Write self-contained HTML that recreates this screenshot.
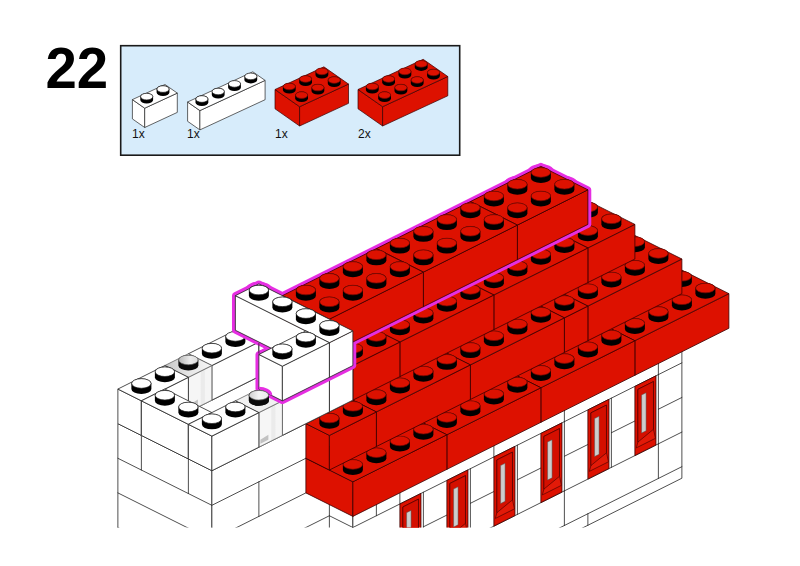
<!DOCTYPE html>
<html><head><meta charset="utf-8"><title>Step 22</title>
<style>
html,body{margin:0;padding:0;background:#fff;}
body{width:800px;height:566px;overflow:hidden;position:relative;font-family:"Liberation Sans",sans-serif;}
svg{position:absolute;left:0;top:0;}
text{font-family:"Liberation Sans",sans-serif;}
</style></head><body>
<svg width="800" height="566" viewBox="0 0 800 566">
<defs><clipPath id="c"><rect x="0" y="0" width="800" height="527.5"/></clipPath>
<linearGradient id="tg" x1="0" y1="0" x2="1" y2="0"><stop offset="0" stop-color="#c6c6c6"/><stop offset="0.5" stop-color="#e6e6e6"/><stop offset="1" stop-color="#f6f6f6"/></linearGradient>
<linearGradient id="sg" x1="0" y1="0" x2="1" y2="0"><stop offset="0" stop-color="#b8b8b8"/><stop offset="0.6" stop-color="#ececec"/><stop offset="1" stop-color="#dddddd"/></linearGradient>
<linearGradient id="fg" x1="0" y1="0" x2="1" y2="0"><stop offset="0" stop-color="#f6f6f6"/><stop offset="0.5" stop-color="#f6f6f6"/><stop offset="0.55" stop-color="#ebebeb"/><stop offset="0.68" stop-color="#ebebeb"/><stop offset="0.73" stop-color="#f5f5f5"/><stop offset="1" stop-color="#f5f5f5"/></linearGradient>
<linearGradient id="sg2" x1="0" y1="0" x2="1" y2="0"><stop offset="0" stop-color="#d0d0d0"/><stop offset="0.5" stop-color="#f4f4f4"/><stop offset="1" stop-color="#eaeaea"/></linearGradient>
</defs>
<rect x="0" y="0" width="800" height="566" fill="#ffffff"/>
<text transform="translate(45.4,88.3) scale(0.972,1)" font-size="58" font-weight="bold" fill="#000">22</text>
<rect x="120.7" y="45.7" width="339" height="109.5" fill="#d7ecfb" stroke="#1a1a1a" stroke-width="1.6"/>
<polygon points="132.4,99.6 144.7,108.2 144.7,127.5 132.4,118.9" fill="#ffffff" stroke="#222222" stroke-width="0.7" stroke-linejoin="round"/>
<polygon points="144.7,108.2 177.3,93.1 177.3,112.4 144.7,127.5" fill="#ffffff" stroke="#222222" stroke-width="0.7" stroke-linejoin="round"/>
<polygon points="132.4,99.6 165,84.5 177.3,93.1 144.7,108.2" fill="#ffffff" stroke="#222222" stroke-width="0.7" stroke-linejoin="round"/>
<path d="M156.6,89.07 L156.6,92.57 A6.4,3.5 0 0 0 169.4,92.57 L169.4,89.07 A6.4,3.5 0 0 0 156.6,89.07 Z" fill="#000000"/>
<ellipse cx="163" cy="89.07" rx="6.1" ry="3.3" fill="#ffffff" stroke="#222222" stroke-width="0.7"/>
<path d="M140.3,96.62 L140.3,100.12 A6.4,3.5 0 0 0 153.1,100.12 L153.1,96.62 A6.4,3.5 0 0 0 140.3,96.62 Z" fill="#000000"/>
<ellipse cx="146.7" cy="96.62" rx="6.1" ry="3.3" fill="#ffffff" stroke="#222222" stroke-width="0.7"/>
<polygon points="187.6,102 199.9,110.6 199.9,129.9 187.6,121.3" fill="#ffffff" stroke="#222222" stroke-width="0.7" stroke-linejoin="round"/>
<polygon points="199.9,110.6 265.1,80.4 265.1,99.7 199.9,129.9" fill="#ffffff" stroke="#222222" stroke-width="0.7" stroke-linejoin="round"/>
<polygon points="187.6,102 252.8,71.8 265.1,80.4 199.9,110.6" fill="#ffffff" stroke="#222222" stroke-width="0.7" stroke-linejoin="round"/>
<path d="M244.4,76.38 L244.4,79.88 A6.4,3.5 0 0 0 257.2,79.88 L257.2,76.38 A6.4,3.5 0 0 0 244.4,76.38 Z" fill="#000000"/>
<ellipse cx="250.8" cy="76.38" rx="6.1" ry="3.3" fill="#ffffff" stroke="#222222" stroke-width="0.7"/>
<path d="M228.1,83.92 L228.1,87.42 A6.4,3.5 0 0 0 240.9,87.42 L240.9,83.92 A6.4,3.5 0 0 0 228.1,83.92 Z" fill="#000000"/>
<ellipse cx="234.5" cy="83.92" rx="6.1" ry="3.3" fill="#ffffff" stroke="#222222" stroke-width="0.7"/>
<path d="M211.8,91.47 L211.8,94.97 A6.4,3.5 0 0 0 224.6,94.97 L224.6,91.47 A6.4,3.5 0 0 0 211.8,91.47 Z" fill="#000000"/>
<ellipse cx="218.2" cy="91.47" rx="6.1" ry="3.3" fill="#ffffff" stroke="#222222" stroke-width="0.7"/>
<path d="M195.5,99.02 L195.5,102.52 A6.4,3.5 0 0 0 208.3,102.52 L208.3,99.02 A6.4,3.5 0 0 0 195.5,99.02 Z" fill="#000000"/>
<ellipse cx="201.9" cy="99.02" rx="6.1" ry="3.3" fill="#ffffff" stroke="#222222" stroke-width="0.7"/>
<polygon points="275,89.5 299.6,106.7 299.6,126 275,108.8" fill="#dd1100" stroke="#3a0000" stroke-width="0.7" stroke-linejoin="round"/>
<polygon points="299.6,106.7 348.5,84.05 348.5,103.35 299.6,126" fill="#dd1100" stroke="#3a0000" stroke-width="0.7" stroke-linejoin="round"/>
<polygon points="275,89.5 323.9,66.85 348.5,84.05 299.6,106.7" fill="#dd1100" stroke="#3a0000" stroke-width="0.7" stroke-linejoin="round"/>
<path d="M315.5,71.42 L315.5,74.92 A6.4,3.5 0 0 0 328.3,74.92 L328.3,71.42 A6.4,3.5 0 0 0 315.5,71.42 Z" fill="#000000"/>
<ellipse cx="321.9" cy="71.42" rx="6.1" ry="3.3" fill="#dd1100" stroke="#7a0800" stroke-width="0.7"/>
<path d="M327.8,80.03 L327.8,83.53 A6.4,3.5 0 0 0 340.6,83.53 L340.6,80.03 A6.4,3.5 0 0 0 327.8,80.03 Z" fill="#000000"/>
<ellipse cx="334.2" cy="80.03" rx="6.1" ry="3.3" fill="#dd1100" stroke="#7a0800" stroke-width="0.7"/>
<path d="M299.2,78.97 L299.2,82.47 A6.4,3.5 0 0 0 312,82.47 L312,78.97 A6.4,3.5 0 0 0 299.2,78.97 Z" fill="#000000"/>
<ellipse cx="305.6" cy="78.97" rx="6.1" ry="3.3" fill="#dd1100" stroke="#7a0800" stroke-width="0.7"/>
<path d="M311.5,87.57 L311.5,91.07 A6.4,3.5 0 0 0 324.3,91.07 L324.3,87.57 A6.4,3.5 0 0 0 311.5,87.57 Z" fill="#000000"/>
<ellipse cx="317.9" cy="87.57" rx="6.1" ry="3.3" fill="#dd1100" stroke="#7a0800" stroke-width="0.7"/>
<path d="M282.9,86.52 L282.9,90.02 A6.4,3.5 0 0 0 295.7,90.02 L295.7,86.52 A6.4,3.5 0 0 0 282.9,86.52 Z" fill="#000000"/>
<ellipse cx="289.3" cy="86.52" rx="6.1" ry="3.3" fill="#dd1100" stroke="#7a0800" stroke-width="0.7"/>
<path d="M295.2,95.12 L295.2,98.62 A6.4,3.5 0 0 0 308,98.62 L308,95.12 A6.4,3.5 0 0 0 295.2,95.12 Z" fill="#000000"/>
<ellipse cx="301.6" cy="95.12" rx="6.1" ry="3.3" fill="#dd1100" stroke="#7a0800" stroke-width="0.7"/>
<polygon points="358,89.5 382.6,106.7 382.6,126 358,108.8" fill="#dd1100" stroke="#3a0000" stroke-width="0.7" stroke-linejoin="round"/>
<polygon points="382.6,106.7 447.8,76.5 447.8,95.8 382.6,126" fill="#dd1100" stroke="#3a0000" stroke-width="0.7" stroke-linejoin="round"/>
<polygon points="358,89.5 423.2,59.3 447.8,76.5 382.6,106.7" fill="#dd1100" stroke="#3a0000" stroke-width="0.7" stroke-linejoin="round"/>
<path d="M414.8,63.88 L414.8,67.38 A6.4,3.5 0 0 0 427.6,67.38 L427.6,63.88 A6.4,3.5 0 0 0 414.8,63.88 Z" fill="#000000"/>
<ellipse cx="421.2" cy="63.88" rx="6.1" ry="3.3" fill="#dd1100" stroke="#7a0800" stroke-width="0.7"/>
<path d="M427.1,72.47 L427.1,75.97 A6.4,3.5 0 0 0 439.9,75.97 L439.9,72.47 A6.4,3.5 0 0 0 427.1,72.47 Z" fill="#000000"/>
<ellipse cx="433.5" cy="72.47" rx="6.1" ry="3.3" fill="#dd1100" stroke="#7a0800" stroke-width="0.7"/>
<path d="M398.5,71.42 L398.5,74.92 A6.4,3.5 0 0 0 411.3,74.92 L411.3,71.42 A6.4,3.5 0 0 0 398.5,71.42 Z" fill="#000000"/>
<ellipse cx="404.9" cy="71.42" rx="6.1" ry="3.3" fill="#dd1100" stroke="#7a0800" stroke-width="0.7"/>
<path d="M410.8,80.03 L410.8,83.53 A6.4,3.5 0 0 0 423.6,83.53 L423.6,80.03 A6.4,3.5 0 0 0 410.8,80.03 Z" fill="#000000"/>
<ellipse cx="417.2" cy="80.03" rx="6.1" ry="3.3" fill="#dd1100" stroke="#7a0800" stroke-width="0.7"/>
<path d="M382.2,78.97 L382.2,82.47 A6.4,3.5 0 0 0 395,82.47 L395,78.97 A6.4,3.5 0 0 0 382.2,78.97 Z" fill="#000000"/>
<ellipse cx="388.6" cy="78.97" rx="6.1" ry="3.3" fill="#dd1100" stroke="#7a0800" stroke-width="0.7"/>
<path d="M394.5,87.57 L394.5,91.07 A6.4,3.5 0 0 0 407.3,91.07 L407.3,87.57 A6.4,3.5 0 0 0 394.5,87.57 Z" fill="#000000"/>
<ellipse cx="400.9" cy="87.57" rx="6.1" ry="3.3" fill="#dd1100" stroke="#7a0800" stroke-width="0.7"/>
<path d="M365.9,86.52 L365.9,90.02 A6.4,3.5 0 0 0 378.7,90.02 L378.7,86.52 A6.4,3.5 0 0 0 365.9,86.52 Z" fill="#000000"/>
<ellipse cx="372.3" cy="86.52" rx="6.1" ry="3.3" fill="#dd1100" stroke="#7a0800" stroke-width="0.7"/>
<path d="M378.2,95.12 L378.2,98.62 A6.4,3.5 0 0 0 391,98.62 L391,95.12 A6.4,3.5 0 0 0 378.2,95.12 Z" fill="#000000"/>
<ellipse cx="384.6" cy="95.12" rx="6.1" ry="3.3" fill="#dd1100" stroke="#7a0800" stroke-width="0.7"/>
<g font-size="12" fill="#111">
<text x="132" y="138">1x</text><text x="187" y="138">1x</text><text x="275" y="138">1x</text><text x="358" y="138">2x</text>
</g>
<g clip-path="url(#c)">
<polygon points="164.88,423.67 258.88,376.63 258.88,418.16 164.88,465.2" fill="#ffffff" stroke="#222222" stroke-width="0.8" stroke-linejoin="round"/>
<polygon points="117.88,423.67 211.88,470.71 211.88,643.76 117.88,596.72" fill="#ffffff" stroke="#222222" stroke-width="0.8" stroke-linejoin="round"/>
<line x1="117.88" y1="458.28" x2="211.88" y2="505.32" stroke="#222222" stroke-width="0.8" stroke-linecap="round"/>
<line x1="117.88" y1="492.89" x2="211.88" y2="539.93" stroke="#222222" stroke-width="0.8" stroke-linecap="round"/>
<line x1="117.88" y1="527.5" x2="211.88" y2="574.54" stroke="#222222" stroke-width="0.8" stroke-linecap="round"/>
<line x1="141.38" y1="435.43" x2="141.38" y2="470.04" stroke="#222222" stroke-width="0.8" stroke-linecap="round"/>
<line x1="188.38" y1="458.95" x2="188.38" y2="493.56" stroke="#222222" stroke-width="0.8" stroke-linecap="round"/>
<polygon points="211.88,470.71 352.88,400.15 352.88,573.2 211.88,643.76" fill="#ffffff" stroke="#222222" stroke-width="0.8" stroke-linejoin="round"/>
<line x1="211.88" y1="505.32" x2="352.88" y2="434.76" stroke="#222222" stroke-width="0.8" stroke-linecap="round"/>
<line x1="211.88" y1="539.93" x2="352.88" y2="469.37" stroke="#222222" stroke-width="0.8" stroke-linecap="round"/>
<line x1="211.88" y1="574.54" x2="352.88" y2="503.98" stroke="#222222" stroke-width="0.8" stroke-linecap="round"/>
<line x1="258.88" y1="481.8" x2="258.88" y2="516.41" stroke="#222222" stroke-width="0.8" stroke-linecap="round"/>
<polygon points="329.38,481.13 352.88,492.89 352.88,642.86 329.38,631.1" fill="#ffffff" stroke="#222222" stroke-width="0.8" stroke-linejoin="round"/>
<line x1="329.38" y1="515.74" x2="352.88" y2="527.5" stroke="#222222" stroke-width="0.8" stroke-linecap="round"/>
<polygon points="352.88,492.89 681.88,328.25 681.88,478.22 352.88,642.86" fill="#ffffff" stroke="#222222" stroke-width="0.8" stroke-linejoin="round"/>
<line x1="352.88" y1="527.5" x2="681.88" y2="362.86" stroke="#222222" stroke-width="0.8" stroke-linecap="round"/>
<line x1="352.88" y1="596.72" x2="681.88" y2="432.08" stroke="#222222" stroke-width="0.8" stroke-linecap="round"/>
<line x1="352.88" y1="631.33" x2="681.88" y2="466.69" stroke="#222222" stroke-width="0.8" stroke-linecap="round"/>
<line x1="376.38" y1="481.13" x2="376.38" y2="515.74" stroke="#222222" stroke-width="0.8" stroke-linecap="round"/>
<line x1="399.88" y1="469.37" x2="399.88" y2="503.98" stroke="#222222" stroke-width="0.8" stroke-linecap="round"/>
<line x1="493.88" y1="422.33" x2="493.88" y2="456.94" stroke="#222222" stroke-width="0.8" stroke-linecap="round"/>
<line x1="564.38" y1="387.05" x2="564.38" y2="421.66" stroke="#222222" stroke-width="0.8" stroke-linecap="round"/>
<line x1="658.38" y1="340.01" x2="658.38" y2="374.62" stroke="#222222" stroke-width="0.8" stroke-linecap="round"/>
<line x1="352.88" y1="562.11" x2="399.88" y2="538.59" stroke="#222222" stroke-width="0.8" stroke-linecap="round"/>
<line x1="423.38" y1="526.83" x2="446.88" y2="515.07" stroke="#222222" stroke-width="0.8" stroke-linecap="round"/>
<line x1="470.38" y1="503.31" x2="493.88" y2="491.55" stroke="#222222" stroke-width="0.8" stroke-linecap="round"/>
<line x1="517.38" y1="479.79" x2="540.88" y2="468.03" stroke="#222222" stroke-width="0.8" stroke-linecap="round"/>
<line x1="564.38" y1="456.27" x2="587.88" y2="444.51" stroke="#222222" stroke-width="0.8" stroke-linecap="round"/>
<line x1="611.38" y1="432.75" x2="634.88" y2="420.99" stroke="#222222" stroke-width="0.8" stroke-linecap="round"/>
<line x1="658.38" y1="409.23" x2="681.88" y2="397.47" stroke="#222222" stroke-width="0.8" stroke-linecap="round"/>
<line x1="564.38" y1="490.88" x2="564.38" y2="525.49" stroke="#222222" stroke-width="0.8" stroke-linecap="round"/>
<line x1="658.38" y1="443.84" x2="658.38" y2="478.45" stroke="#222222" stroke-width="0.8" stroke-linecap="round"/>
<line x1="587.88" y1="513.73" x2="587.88" y2="525.26" stroke="#222222" stroke-width="0.8" stroke-linecap="round"/>
<line x1="658.38" y1="374.62" x2="658.38" y2="443.84" stroke="#222222" stroke-width="0.8" stroke-linecap="round"/>
<polygon points="634.88,386.38 655.98,375.82 655.98,445.04 634.88,455.6" fill="#dd1100" stroke="#3a0000" stroke-width="0.8" stroke-linejoin="round"/>
<polygon points="637.88,389.38 653.48,381.57 653.48,429.29 655.48,438.29 636.38,447.85 637.88,442.1" fill="#e21a08" stroke="#3a0000" stroke-width="0.6" stroke-linejoin="round"/>
<polygon points="637.88,389.38 653.48,381.57 653.48,429.29 637.88,442.1" fill="#d40f00" stroke="#3a0000" stroke-width="0.6" stroke-linejoin="round"/>
<polygon points="641.58,395.03 646.08,392.78 646.08,430.78 641.58,433.03" fill="#cdcdcd" stroke="#555" stroke-width="0.5" stroke-linejoin="round"/>
<line x1="611.38" y1="398.14" x2="611.38" y2="467.36" stroke="#222222" stroke-width="0.8" stroke-linecap="round"/>
<polygon points="587.88,409.9 608.98,399.34 608.98,468.56 587.88,479.12" fill="#dd1100" stroke="#3a0000" stroke-width="0.8" stroke-linejoin="round"/>
<polygon points="590.88,412.9 606.48,405.09 606.48,452.81 608.48,461.81 589.38,471.37 590.88,465.62" fill="#e21a08" stroke="#3a0000" stroke-width="0.6" stroke-linejoin="round"/>
<polygon points="590.88,412.9 606.48,405.09 606.48,452.81 590.88,465.62" fill="#d40f00" stroke="#3a0000" stroke-width="0.6" stroke-linejoin="round"/>
<polygon points="594.58,418.55 599.08,416.3 599.08,454.3 594.58,456.55" fill="#cdcdcd" stroke="#555" stroke-width="0.5" stroke-linejoin="round"/>
<line x1="564.38" y1="421.66" x2="564.38" y2="490.88" stroke="#222222" stroke-width="0.8" stroke-linecap="round"/>
<polygon points="540.88,433.42 561.98,422.86 561.98,492.08 540.88,502.64" fill="#dd1100" stroke="#3a0000" stroke-width="0.8" stroke-linejoin="round"/>
<polygon points="543.88,436.42 559.48,428.61 559.48,476.33 561.48,485.33 542.38,494.89 543.88,489.14" fill="#e21a08" stroke="#3a0000" stroke-width="0.6" stroke-linejoin="round"/>
<polygon points="543.88,436.42 559.48,428.61 559.48,476.33 543.88,489.14" fill="#d40f00" stroke="#3a0000" stroke-width="0.6" stroke-linejoin="round"/>
<polygon points="547.58,442.07 552.08,439.82 552.08,477.82 547.58,480.07" fill="#cdcdcd" stroke="#555" stroke-width="0.5" stroke-linejoin="round"/>
<line x1="517.38" y1="445.18" x2="517.38" y2="514.4" stroke="#222222" stroke-width="0.8" stroke-linecap="round"/>
<polygon points="493.88,456.94 514.98,446.38 514.98,515.6 493.88,526.16" fill="#dd1100" stroke="#3a0000" stroke-width="0.8" stroke-linejoin="round"/>
<polygon points="496.88,459.94 512.48,452.13 512.48,499.85 514.48,508.85 495.38,518.41 496.88,512.66" fill="#e21a08" stroke="#3a0000" stroke-width="0.6" stroke-linejoin="round"/>
<polygon points="496.88,459.94 512.48,452.13 512.48,499.85 496.88,512.66" fill="#d40f00" stroke="#3a0000" stroke-width="0.6" stroke-linejoin="round"/>
<polygon points="500.58,465.59 505.08,463.34 505.08,501.34 500.58,503.59" fill="#cdcdcd" stroke="#555" stroke-width="0.5" stroke-linejoin="round"/>
<line x1="470.38" y1="468.7" x2="470.38" y2="537.92" stroke="#222222" stroke-width="0.8" stroke-linecap="round"/>
<polygon points="446.88,480.46 467.98,469.9 467.98,539.12 446.88,549.68" fill="#dd1100" stroke="#3a0000" stroke-width="0.8" stroke-linejoin="round"/>
<polygon points="449.88,483.46 465.48,475.65 465.48,523.37 467.48,532.37 448.38,541.93 449.88,536.18" fill="#e21a08" stroke="#3a0000" stroke-width="0.6" stroke-linejoin="round"/>
<polygon points="449.88,483.46 465.48,475.65 465.48,523.37 449.88,536.18" fill="#d40f00" stroke="#3a0000" stroke-width="0.6" stroke-linejoin="round"/>
<polygon points="453.58,489.11 458.08,486.86 458.08,524.86 453.58,527.11" fill="#cdcdcd" stroke="#555" stroke-width="0.5" stroke-linejoin="round"/>
<line x1="423.38" y1="492.22" x2="423.38" y2="561.44" stroke="#222222" stroke-width="0.8" stroke-linecap="round"/>
<polygon points="399.88,503.98 420.98,493.42 420.98,562.64 399.88,573.2" fill="#dd1100" stroke="#3a0000" stroke-width="0.8" stroke-linejoin="round"/>
<polygon points="402.88,506.98 418.48,499.17 418.48,546.89 420.48,555.89 401.38,565.45 402.88,559.7" fill="#e21a08" stroke="#3a0000" stroke-width="0.6" stroke-linejoin="round"/>
<polygon points="402.88,506.98 418.48,499.17 418.48,546.89 402.88,559.7" fill="#d40f00" stroke="#3a0000" stroke-width="0.6" stroke-linejoin="round"/>
<polygon points="406.58,512.63 411.08,510.38 411.08,548.38 406.58,550.63" fill="#cdcdcd" stroke="#555" stroke-width="0.5" stroke-linejoin="round"/>
<polygon points="587.88,317.16 634.88,340.68 634.88,375.29 587.88,351.77" fill="#dd1100" stroke="#3a0000" stroke-width="0.8" stroke-linejoin="round"/>
<polygon points="634.88,340.68 728.88,293.64 728.88,328.25 634.88,375.29" fill="#dd1100" stroke="#3a0000" stroke-width="0.8" stroke-linejoin="round"/>
<polygon points="587.88,317.16 681.88,270.12 728.88,293.64 634.88,340.68" fill="#dd1100" stroke="#3a0000" stroke-width="0.8" stroke-linejoin="round"/>
<path d="M671.88,276.28 L671.88,281.88 A10,5 0 0 0 691.88,281.88 L691.88,276.28 A10,5 0 0 0 671.88,276.28 Z" fill="#000000"/>
<ellipse cx="681.88" cy="276.28" rx="9.7" ry="4.8" fill="#dd1100" stroke="#7a0800" stroke-width="0.7"/>
<path d="M695.38,288.04 L695.38,293.64 A10,5 0 0 0 715.38,293.64 L715.38,288.04 A10,5 0 0 0 695.38,288.04 Z" fill="#000000"/>
<ellipse cx="705.38" cy="288.04" rx="9.7" ry="4.8" fill="#dd1100" stroke="#7a0800" stroke-width="0.7"/>
<path d="M671.88,299.8 L671.88,305.4 A10,5 0 0 0 691.88,305.4 L691.88,299.8 A10,5 0 0 0 671.88,299.8 Z" fill="#000000"/>
<ellipse cx="681.88" cy="299.8" rx="9.7" ry="4.8" fill="#dd1100" stroke="#7a0800" stroke-width="0.7"/>
<path d="M648.38,311.56 L648.38,317.16 A10,5 0 0 0 668.38,317.16 L668.38,311.56 A10,5 0 0 0 648.38,311.56 Z" fill="#000000"/>
<ellipse cx="658.38" cy="311.56" rx="9.7" ry="4.8" fill="#dd1100" stroke="#7a0800" stroke-width="0.7"/>
<path d="M624.88,323.32 L624.88,328.92 A10,5 0 0 0 644.88,328.92 L644.88,323.32 A10,5 0 0 0 624.88,323.32 Z" fill="#000000"/>
<ellipse cx="634.88" cy="323.32" rx="9.7" ry="4.8" fill="#dd1100" stroke="#7a0800" stroke-width="0.7"/>
<polygon points="493.88,364.2 540.88,387.72 540.88,422.33 493.88,398.81" fill="#dd1100" stroke="#3a0000" stroke-width="0.8" stroke-linejoin="round"/>
<polygon points="540.88,387.72 634.88,340.68 634.88,375.29 540.88,422.33" fill="#dd1100" stroke="#3a0000" stroke-width="0.8" stroke-linejoin="round"/>
<polygon points="493.88,364.2 587.88,317.16 634.88,340.68 540.88,387.72" fill="#dd1100" stroke="#3a0000" stroke-width="0.8" stroke-linejoin="round"/>
<path d="M601.38,335.08 L601.38,340.68 A10,5 0 0 0 621.38,340.68 L621.38,335.08 A10,5 0 0 0 601.38,335.08 Z" fill="#000000"/>
<ellipse cx="611.38" cy="335.08" rx="9.7" ry="4.8" fill="#dd1100" stroke="#7a0800" stroke-width="0.7"/>
<path d="M577.88,346.84 L577.88,352.44 A10,5 0 0 0 597.88,352.44 L597.88,346.84 A10,5 0 0 0 577.88,346.84 Z" fill="#000000"/>
<ellipse cx="587.88" cy="346.84" rx="9.7" ry="4.8" fill="#dd1100" stroke="#7a0800" stroke-width="0.7"/>
<path d="M554.38,358.6 L554.38,364.2 A10,5 0 0 0 574.38,364.2 L574.38,358.6 A10,5 0 0 0 554.38,358.6 Z" fill="#000000"/>
<ellipse cx="564.38" cy="358.6" rx="9.7" ry="4.8" fill="#dd1100" stroke="#7a0800" stroke-width="0.7"/>
<path d="M530.88,370.36 L530.88,375.96 A10,5 0 0 0 550.88,375.96 L550.88,370.36 A10,5 0 0 0 530.88,370.36 Z" fill="#000000"/>
<ellipse cx="540.88" cy="370.36" rx="9.7" ry="4.8" fill="#dd1100" stroke="#7a0800" stroke-width="0.7"/>
<polygon points="399.88,411.24 446.88,434.76 446.88,469.37 399.88,445.85" fill="#dd1100" stroke="#3a0000" stroke-width="0.8" stroke-linejoin="round"/>
<polygon points="446.88,434.76 540.88,387.72 540.88,422.33 446.88,469.37" fill="#dd1100" stroke="#3a0000" stroke-width="0.8" stroke-linejoin="round"/>
<polygon points="399.88,411.24 493.88,364.2 540.88,387.72 446.88,434.76" fill="#dd1100" stroke="#3a0000" stroke-width="0.8" stroke-linejoin="round"/>
<path d="M507.38,382.12 L507.38,387.72 A10,5 0 0 0 527.38,387.72 L527.38,382.12 A10,5 0 0 0 507.38,382.12 Z" fill="#000000"/>
<ellipse cx="517.38" cy="382.12" rx="9.7" ry="4.8" fill="#dd1100" stroke="#7a0800" stroke-width="0.7"/>
<path d="M483.88,393.88 L483.88,399.48 A10,5 0 0 0 503.88,399.48 L503.88,393.88 A10,5 0 0 0 483.88,393.88 Z" fill="#000000"/>
<ellipse cx="493.88" cy="393.88" rx="9.7" ry="4.8" fill="#dd1100" stroke="#7a0800" stroke-width="0.7"/>
<path d="M460.38,405.64 L460.38,411.24 A10,5 0 0 0 480.38,411.24 L480.38,405.64 A10,5 0 0 0 460.38,405.64 Z" fill="#000000"/>
<ellipse cx="470.38" cy="405.64" rx="9.7" ry="4.8" fill="#dd1100" stroke="#7a0800" stroke-width="0.7"/>
<path d="M436.88,417.4 L436.88,423 A10,5 0 0 0 456.88,423 L456.88,417.4 A10,5 0 0 0 436.88,417.4 Z" fill="#000000"/>
<ellipse cx="446.88" cy="417.4" rx="9.7" ry="4.8" fill="#dd1100" stroke="#7a0800" stroke-width="0.7"/>
<polygon points="305.88,458.28 352.88,481.8 352.88,516.41 305.88,492.89" fill="#dd1100" stroke="#3a0000" stroke-width="0.8" stroke-linejoin="round"/>
<polygon points="352.88,481.8 446.88,434.76 446.88,469.37 352.88,516.41" fill="#dd1100" stroke="#3a0000" stroke-width="0.8" stroke-linejoin="round"/>
<polygon points="305.88,458.28 399.88,411.24 446.88,434.76 352.88,481.8" fill="#dd1100" stroke="#3a0000" stroke-width="0.8" stroke-linejoin="round"/>
<path d="M413.38,429.16 L413.38,434.76 A10,5 0 0 0 433.38,434.76 L433.38,429.16 A10,5 0 0 0 413.38,429.16 Z" fill="#000000"/>
<ellipse cx="423.38" cy="429.16" rx="9.7" ry="4.8" fill="#dd1100" stroke="#7a0800" stroke-width="0.7"/>
<path d="M389.88,440.92 L389.88,446.52 A10,5 0 0 0 409.88,446.52 L409.88,440.92 A10,5 0 0 0 389.88,440.92 Z" fill="#000000"/>
<ellipse cx="399.88" cy="440.92" rx="9.7" ry="4.8" fill="#dd1100" stroke="#7a0800" stroke-width="0.7"/>
<path d="M366.38,452.68 L366.38,458.28 A10,5 0 0 0 386.38,458.28 L386.38,452.68 A10,5 0 0 0 366.38,452.68 Z" fill="#000000"/>
<ellipse cx="376.38" cy="452.68" rx="9.7" ry="4.8" fill="#dd1100" stroke="#7a0800" stroke-width="0.7"/>
<path d="M342.88,464.44 L342.88,470.04 A10,5 0 0 0 362.88,470.04 L362.88,464.44 A10,5 0 0 0 342.88,464.44 Z" fill="#000000"/>
<ellipse cx="352.88" cy="464.44" rx="9.7" ry="4.8" fill="#dd1100" stroke="#7a0800" stroke-width="0.7"/>
<polygon points="540.88,282.55 587.88,306.07 587.88,340.68 540.88,317.16" fill="#dd1100" stroke="#3a0000" stroke-width="0.8" stroke-linejoin="round"/>
<polygon points="587.88,306.07 681.88,259.03 681.88,293.64 587.88,340.68" fill="#dd1100" stroke="#3a0000" stroke-width="0.8" stroke-linejoin="round"/>
<polygon points="540.88,282.55 634.88,235.51 681.88,259.03 587.88,306.07" fill="#dd1100" stroke="#3a0000" stroke-width="0.8" stroke-linejoin="round"/>
<path d="M624.88,241.67 L624.88,247.27 A10,5 0 0 0 644.88,247.27 L644.88,241.67 A10,5 0 0 0 624.88,241.67 Z" fill="#000000"/>
<ellipse cx="634.88" cy="241.67" rx="9.7" ry="4.8" fill="#dd1100" stroke="#7a0800" stroke-width="0.7"/>
<path d="M648.38,253.43 L648.38,259.03 A10,5 0 0 0 668.38,259.03 L668.38,253.43 A10,5 0 0 0 648.38,253.43 Z" fill="#000000"/>
<ellipse cx="658.38" cy="253.43" rx="9.7" ry="4.8" fill="#dd1100" stroke="#7a0800" stroke-width="0.7"/>
<path d="M624.88,265.19 L624.88,270.79 A10,5 0 0 0 644.88,270.79 L644.88,265.19 A10,5 0 0 0 624.88,265.19 Z" fill="#000000"/>
<ellipse cx="634.88" cy="265.19" rx="9.7" ry="4.8" fill="#dd1100" stroke="#7a0800" stroke-width="0.7"/>
<path d="M601.38,276.95 L601.38,282.55 A10,5 0 0 0 621.38,282.55 L621.38,276.95 A10,5 0 0 0 601.38,276.95 Z" fill="#000000"/>
<ellipse cx="611.38" cy="276.95" rx="9.7" ry="4.8" fill="#dd1100" stroke="#7a0800" stroke-width="0.7"/>
<path d="M577.88,288.71 L577.88,294.31 A10,5 0 0 0 597.88,294.31 L597.88,288.71 A10,5 0 0 0 577.88,288.71 Z" fill="#000000"/>
<ellipse cx="587.88" cy="288.71" rx="9.7" ry="4.8" fill="#dd1100" stroke="#7a0800" stroke-width="0.7"/>
<polygon points="517.38,294.31 564.38,317.83 564.38,352.44 517.38,328.92" fill="#dd1100" stroke="#3a0000" stroke-width="0.8" stroke-linejoin="round"/>
<polygon points="564.38,317.83 587.88,306.07 587.88,340.68 564.38,352.44" fill="#dd1100" stroke="#3a0000" stroke-width="0.8" stroke-linejoin="round"/>
<polygon points="517.38,294.31 540.88,282.55 587.88,306.07 564.38,317.83" fill="#dd1100" stroke="#3a0000" stroke-width="0.8" stroke-linejoin="round"/>
<path d="M554.38,300.47 L554.38,306.07 A10,5 0 0 0 574.38,306.07 L574.38,300.47 A10,5 0 0 0 554.38,300.47 Z" fill="#000000"/>
<ellipse cx="564.38" cy="300.47" rx="9.7" ry="4.8" fill="#dd1100" stroke="#7a0800" stroke-width="0.7"/>
<polygon points="423.38,341.35 470.38,364.87 470.38,399.48 423.38,375.96" fill="#dd1100" stroke="#3a0000" stroke-width="0.8" stroke-linejoin="round"/>
<polygon points="470.38,364.87 564.38,317.83 564.38,352.44 470.38,399.48" fill="#dd1100" stroke="#3a0000" stroke-width="0.8" stroke-linejoin="round"/>
<polygon points="423.38,341.35 517.38,294.31 564.38,317.83 470.38,364.87" fill="#dd1100" stroke="#3a0000" stroke-width="0.8" stroke-linejoin="round"/>
<path d="M530.88,312.23 L530.88,317.83 A10,5 0 0 0 550.88,317.83 L550.88,312.23 A10,5 0 0 0 530.88,312.23 Z" fill="#000000"/>
<ellipse cx="540.88" cy="312.23" rx="9.7" ry="4.8" fill="#dd1100" stroke="#7a0800" stroke-width="0.7"/>
<path d="M507.38,323.99 L507.38,329.59 A10,5 0 0 0 527.38,329.59 L527.38,323.99 A10,5 0 0 0 507.38,323.99 Z" fill="#000000"/>
<ellipse cx="517.38" cy="323.99" rx="9.7" ry="4.8" fill="#dd1100" stroke="#7a0800" stroke-width="0.7"/>
<path d="M483.88,335.75 L483.88,341.35 A10,5 0 0 0 503.88,341.35 L503.88,335.75 A10,5 0 0 0 483.88,335.75 Z" fill="#000000"/>
<ellipse cx="493.88" cy="335.75" rx="9.7" ry="4.8" fill="#dd1100" stroke="#7a0800" stroke-width="0.7"/>
<path d="M460.38,347.51 L460.38,353.11 A10,5 0 0 0 480.38,353.11 L480.38,347.51 A10,5 0 0 0 460.38,347.51 Z" fill="#000000"/>
<ellipse cx="470.38" cy="347.51" rx="9.7" ry="4.8" fill="#dd1100" stroke="#7a0800" stroke-width="0.7"/>
<polygon points="329.38,388.39 376.38,411.91 376.38,446.52 329.38,423" fill="#dd1100" stroke="#3a0000" stroke-width="0.8" stroke-linejoin="round"/>
<polygon points="376.38,411.91 470.38,364.87 470.38,399.48 376.38,446.52" fill="#dd1100" stroke="#3a0000" stroke-width="0.8" stroke-linejoin="round"/>
<polygon points="329.38,388.39 423.38,341.35 470.38,364.87 376.38,411.91" fill="#dd1100" stroke="#3a0000" stroke-width="0.8" stroke-linejoin="round"/>
<path d="M436.88,359.27 L436.88,364.87 A10,5 0 0 0 456.88,364.87 L456.88,359.27 A10,5 0 0 0 436.88,359.27 Z" fill="#000000"/>
<ellipse cx="446.88" cy="359.27" rx="9.7" ry="4.8" fill="#dd1100" stroke="#7a0800" stroke-width="0.7"/>
<path d="M413.38,371.03 L413.38,376.63 A10,5 0 0 0 433.38,376.63 L433.38,371.03 A10,5 0 0 0 413.38,371.03 Z" fill="#000000"/>
<ellipse cx="423.38" cy="371.03" rx="9.7" ry="4.8" fill="#dd1100" stroke="#7a0800" stroke-width="0.7"/>
<path d="M389.88,382.79 L389.88,388.39 A10,5 0 0 0 409.88,388.39 L409.88,382.79 A10,5 0 0 0 389.88,382.79 Z" fill="#000000"/>
<ellipse cx="399.88" cy="382.79" rx="9.7" ry="4.8" fill="#dd1100" stroke="#7a0800" stroke-width="0.7"/>
<path d="M366.38,394.55 L366.38,400.15 A10,5 0 0 0 386.38,400.15 L386.38,394.55 A10,5 0 0 0 366.38,394.55 Z" fill="#000000"/>
<ellipse cx="376.38" cy="394.55" rx="9.7" ry="4.8" fill="#dd1100" stroke="#7a0800" stroke-width="0.7"/>
<polygon points="305.88,423.67 329.38,435.43 329.38,470.04 305.88,458.28" fill="#dd1100" stroke="#3a0000" stroke-width="0.8" stroke-linejoin="round"/>
<polygon points="329.38,435.43 376.38,411.91 376.38,446.52 329.38,470.04" fill="#dd1100" stroke="#3a0000" stroke-width="0.8" stroke-linejoin="round"/>
<polygon points="305.88,423.67 352.88,400.15 376.38,411.91 329.38,435.43" fill="#dd1100" stroke="#3a0000" stroke-width="0.8" stroke-linejoin="round"/>
<path d="M342.88,406.31 L342.88,411.91 A10,5 0 0 0 362.88,411.91 L362.88,406.31 A10,5 0 0 0 342.88,406.31 Z" fill="#000000"/>
<ellipse cx="352.88" cy="406.31" rx="9.7" ry="4.8" fill="#dd1100" stroke="#7a0800" stroke-width="0.7"/>
<path d="M319.38,418.07 L319.38,423.67 A10,5 0 0 0 339.38,423.67 L339.38,418.07 A10,5 0 0 0 319.38,418.07 Z" fill="#000000"/>
<ellipse cx="329.38" cy="418.07" rx="9.7" ry="4.8" fill="#dd1100" stroke="#7a0800" stroke-width="0.7"/>
<polygon points="493.88,200.9 587.88,247.94 587.88,282.55 493.88,235.51" fill="#dd1100" stroke="#3a0000" stroke-width="0.8" stroke-linejoin="round"/>
<polygon points="587.88,247.94 634.88,224.42 634.88,259.03 587.88,282.55" fill="#dd1100" stroke="#3a0000" stroke-width="0.8" stroke-linejoin="round"/>
<polygon points="493.88,200.9 540.88,177.38 634.88,224.42 587.88,247.94" fill="#dd1100" stroke="#3a0000" stroke-width="0.8" stroke-linejoin="round"/>
<path d="M530.88,183.54 L530.88,189.14 A10,5 0 0 0 550.88,189.14 L550.88,183.54 A10,5 0 0 0 530.88,183.54 Z" fill="#000000"/>
<ellipse cx="540.88" cy="183.54" rx="9.7" ry="4.8" fill="#dd1100" stroke="#7a0800" stroke-width="0.7"/>
<path d="M554.38,195.3 L554.38,200.9 A10,5 0 0 0 574.38,200.9 L574.38,195.3 A10,5 0 0 0 554.38,195.3 Z" fill="#000000"/>
<ellipse cx="564.38" cy="195.3" rx="9.7" ry="4.8" fill="#dd1100" stroke="#7a0800" stroke-width="0.7"/>
<path d="M577.88,207.06 L577.88,212.66 A10,5 0 0 0 597.88,212.66 L597.88,207.06 A10,5 0 0 0 577.88,207.06 Z" fill="#000000"/>
<ellipse cx="587.88" cy="207.06" rx="9.7" ry="4.8" fill="#dd1100" stroke="#7a0800" stroke-width="0.7"/>
<path d="M601.38,218.82 L601.38,224.42 A10,5 0 0 0 621.38,224.42 L621.38,218.82 A10,5 0 0 0 601.38,218.82 Z" fill="#000000"/>
<ellipse cx="611.38" cy="218.82" rx="9.7" ry="4.8" fill="#dd1100" stroke="#7a0800" stroke-width="0.7"/>
<path d="M577.88,230.58 L577.88,236.18 A10,5 0 0 0 597.88,236.18 L597.88,230.58 A10,5 0 0 0 577.88,230.58 Z" fill="#000000"/>
<ellipse cx="587.88" cy="230.58" rx="9.7" ry="4.8" fill="#dd1100" stroke="#7a0800" stroke-width="0.7"/>
<polygon points="399.88,247.94 493.88,294.98 493.88,329.59 399.88,282.55" fill="#dd1100" stroke="#3a0000" stroke-width="0.8" stroke-linejoin="round"/>
<polygon points="493.88,294.98 587.88,247.94 587.88,282.55 493.88,329.59" fill="#dd1100" stroke="#3a0000" stroke-width="0.8" stroke-linejoin="round"/>
<polygon points="399.88,247.94 493.88,200.9 587.88,247.94 493.88,294.98" fill="#dd1100" stroke="#3a0000" stroke-width="0.8" stroke-linejoin="round"/>
<path d="M554.38,242.34 L554.38,247.94 A10,5 0 0 0 574.38,247.94 L574.38,242.34 A10,5 0 0 0 554.38,242.34 Z" fill="#000000"/>
<ellipse cx="564.38" cy="242.34" rx="9.7" ry="4.8" fill="#dd1100" stroke="#7a0800" stroke-width="0.7"/>
<path d="M530.88,254.1 L530.88,259.7 A10,5 0 0 0 550.88,259.7 L550.88,254.1 A10,5 0 0 0 530.88,254.1 Z" fill="#000000"/>
<ellipse cx="540.88" cy="254.1" rx="9.7" ry="4.8" fill="#dd1100" stroke="#7a0800" stroke-width="0.7"/>
<path d="M507.38,265.86 L507.38,271.46 A10,5 0 0 0 527.38,271.46 L527.38,265.86 A10,5 0 0 0 507.38,265.86 Z" fill="#000000"/>
<ellipse cx="517.38" cy="265.86" rx="9.7" ry="4.8" fill="#dd1100" stroke="#7a0800" stroke-width="0.7"/>
<path d="M483.88,277.62 L483.88,283.22 A10,5 0 0 0 503.88,283.22 L503.88,277.62 A10,5 0 0 0 483.88,277.62 Z" fill="#000000"/>
<ellipse cx="493.88" cy="277.62" rx="9.7" ry="4.8" fill="#dd1100" stroke="#7a0800" stroke-width="0.7"/>
<polygon points="305.88,294.98 399.88,342.02 399.88,376.63 305.88,329.59" fill="#dd1100" stroke="#3a0000" stroke-width="0.8" stroke-linejoin="round"/>
<polygon points="399.88,342.02 493.88,294.98 493.88,329.59 399.88,376.63" fill="#dd1100" stroke="#3a0000" stroke-width="0.8" stroke-linejoin="round"/>
<polygon points="305.88,294.98 399.88,247.94 493.88,294.98 399.88,342.02" fill="#dd1100" stroke="#3a0000" stroke-width="0.8" stroke-linejoin="round"/>
<path d="M460.38,289.38 L460.38,294.98 A10,5 0 0 0 480.38,294.98 L480.38,289.38 A10,5 0 0 0 460.38,289.38 Z" fill="#000000"/>
<ellipse cx="470.38" cy="289.38" rx="9.7" ry="4.8" fill="#dd1100" stroke="#7a0800" stroke-width="0.7"/>
<path d="M436.88,301.14 L436.88,306.74 A10,5 0 0 0 456.88,306.74 L456.88,301.14 A10,5 0 0 0 436.88,301.14 Z" fill="#000000"/>
<ellipse cx="446.88" cy="301.14" rx="9.7" ry="4.8" fill="#dd1100" stroke="#7a0800" stroke-width="0.7"/>
<path d="M413.38,312.9 L413.38,318.5 A10,5 0 0 0 433.38,318.5 L433.38,312.9 A10,5 0 0 0 413.38,312.9 Z" fill="#000000"/>
<ellipse cx="423.38" cy="312.9" rx="9.7" ry="4.8" fill="#dd1100" stroke="#7a0800" stroke-width="0.7"/>
<path d="M389.88,324.66 L389.88,330.26 A10,5 0 0 0 409.88,330.26 L409.88,324.66 A10,5 0 0 0 389.88,324.66 Z" fill="#000000"/>
<ellipse cx="399.88" cy="324.66" rx="9.7" ry="4.8" fill="#dd1100" stroke="#7a0800" stroke-width="0.7"/>
<polygon points="258.88,318.5 352.88,365.54 352.88,400.15 258.88,353.11" fill="#dd1100" stroke="#3a0000" stroke-width="0.8" stroke-linejoin="round"/>
<polygon points="352.88,365.54 399.88,342.02 399.88,376.63 352.88,400.15" fill="#dd1100" stroke="#3a0000" stroke-width="0.8" stroke-linejoin="round"/>
<polygon points="258.88,318.5 305.88,294.98 399.88,342.02 352.88,365.54" fill="#dd1100" stroke="#3a0000" stroke-width="0.8" stroke-linejoin="round"/>
<path d="M366.38,336.42 L366.38,342.02 A10,5 0 0 0 386.38,342.02 L386.38,336.42 A10,5 0 0 0 366.38,336.42 Z" fill="#000000"/>
<ellipse cx="376.38" cy="336.42" rx="9.7" ry="4.8" fill="#dd1100" stroke="#7a0800" stroke-width="0.7"/>
<path d="M342.88,348.18 L342.88,353.78 A10,5 0 0 0 362.88,353.78 L362.88,348.18 A10,5 0 0 0 342.88,348.18 Z" fill="#000000"/>
<ellipse cx="352.88" cy="348.18" rx="9.7" ry="4.8" fill="#dd1100" stroke="#7a0800" stroke-width="0.7"/>
<polygon points="188.38,353.78 211.88,365.54 211.88,400.15 188.38,388.39" fill="#ffffff" stroke="#222222" stroke-width="0.8" stroke-linejoin="round"/>
<polygon points="211.88,365.54 282.38,330.26 282.38,364.87 211.88,400.15" fill="#ffffff" stroke="#222222" stroke-width="0.8" stroke-linejoin="round"/>
<polygon points="188.38,353.78 258.88,318.5 282.38,330.26 211.88,365.54" fill="#ffffff" stroke="#222222" stroke-width="0.8" stroke-linejoin="round"/>
<path d="M225.38,336.42 L225.38,342.02 A10,5 0 0 0 245.38,342.02 L245.38,336.42 A10,5 0 0 0 225.38,336.42 Z" fill="#000000"/>
<ellipse cx="235.38" cy="336.42" rx="9.7" ry="4.8" fill="#ffffff" stroke="#222222" stroke-width="0.7"/>
<path d="M201.88,348.18 L201.88,353.78 A10,5 0 0 0 221.88,353.78 L221.88,348.18 A10,5 0 0 0 201.88,348.18 Z" fill="#000000"/>
<ellipse cx="211.88" cy="348.18" rx="9.7" ry="4.8" fill="#ffffff" stroke="#222222" stroke-width="0.7"/>
<polygon points="164.88,365.54 188.38,377.3 188.38,411.91 164.88,400.15" fill="#ebebeb" stroke="#666" stroke-width="0.8" stroke-linejoin="round"/>
<polygon points="188.38,377.3 211.88,365.54 211.88,400.15 188.38,411.91" fill="url(#fg)" stroke="#666" stroke-width="0.8" stroke-linejoin="round"/>
<polygon points="164.88,365.54 188.38,353.78 211.88,365.54 188.38,377.3" fill="url(#tg)" stroke="#666" stroke-width="0.8" stroke-linejoin="round"/>
<path d="M178.38,359.94 L178.38,365.54 A10,5 0 0 0 198.38,365.54 L198.38,359.94 A10,5 0 0 0 178.38,359.94 Z" fill="#0a0a0a"/>
<ellipse cx="188.38" cy="359.94" rx="9.7" ry="4.8" fill="url(#sg)" stroke="#666" stroke-width="0.7"/>
<polygon points="189.88,404.41 197.88,399.41 197.88,404.41 189.88,408.41" fill="#c2c2c2" stroke="none" stroke-width="0" stroke-linejoin="round"/>
<polygon points="117.88,389.06 141.38,400.82 141.38,435.43 117.88,423.67" fill="#ffffff" stroke="#222222" stroke-width="0.8" stroke-linejoin="round"/>
<polygon points="141.38,400.82 188.38,377.3 188.38,411.91 141.38,435.43" fill="#ffffff" stroke="#222222" stroke-width="0.8" stroke-linejoin="round"/>
<polygon points="117.88,389.06 164.88,365.54 188.38,377.3 141.38,400.82" fill="#ffffff" stroke="#222222" stroke-width="0.8" stroke-linejoin="round"/>
<path d="M154.88,371.7 L154.88,377.3 A10,5 0 0 0 174.88,377.3 L174.88,371.7 A10,5 0 0 0 154.88,371.7 Z" fill="#000000"/>
<ellipse cx="164.88" cy="371.7" rx="9.7" ry="4.8" fill="#ffffff" stroke="#222222" stroke-width="0.7"/>
<path d="M131.38,383.46 L131.38,389.06 A10,5 0 0 0 151.38,389.06 L151.38,383.46 A10,5 0 0 0 131.38,383.46 Z" fill="#000000"/>
<ellipse cx="141.38" cy="383.46" rx="9.7" ry="4.8" fill="#ffffff" stroke="#222222" stroke-width="0.7"/>
<polygon points="258.88,342.02 305.88,365.54 305.88,400.15 258.88,376.63" fill="#ffffff" stroke="#222222" stroke-width="0.8" stroke-linejoin="round"/>
<polygon points="305.88,365.54 329.38,353.78 329.38,388.39 305.88,400.15" fill="#ffffff" stroke="#222222" stroke-width="0.8" stroke-linejoin="round"/>
<polygon points="258.88,342.02 282.38,330.26 329.38,353.78 305.88,365.54" fill="#ffffff" stroke="#222222" stroke-width="0.8" stroke-linejoin="round"/>
<polygon points="141.38,400.82 188.38,424.34 188.38,458.95 141.38,435.43" fill="#ffffff" stroke="#222222" stroke-width="0.8" stroke-linejoin="round"/>
<polygon points="188.38,424.34 211.88,412.58 211.88,447.19 188.38,458.95" fill="#ffffff" stroke="#222222" stroke-width="0.8" stroke-linejoin="round"/>
<polygon points="141.38,400.82 164.88,389.06 211.88,412.58 188.38,424.34" fill="#ffffff" stroke="#222222" stroke-width="0.8" stroke-linejoin="round"/>
<path d="M154.88,395.22 L154.88,400.82 A10,5 0 0 0 174.88,400.82 L174.88,395.22 A10,5 0 0 0 154.88,395.22 Z" fill="#000000"/>
<ellipse cx="164.88" cy="395.22" rx="9.7" ry="4.8" fill="#ffffff" stroke="#222222" stroke-width="0.7"/>
<path d="M178.38,406.98 L178.38,412.58 A10,5 0 0 0 198.38,412.58 L198.38,406.98 A10,5 0 0 0 178.38,406.98 Z" fill="#000000"/>
<ellipse cx="188.38" cy="406.98" rx="9.7" ry="4.8" fill="#ffffff" stroke="#222222" stroke-width="0.7"/>
<polygon points="305.88,365.54 329.38,377.3 329.38,411.91 305.88,400.15" fill="#ffffff" stroke="#222222" stroke-width="0.8" stroke-linejoin="round"/>
<polygon points="329.38,377.3 352.88,365.54 352.88,400.15 329.38,411.91" fill="#ffffff" stroke="#222222" stroke-width="0.8" stroke-linejoin="round"/>
<polygon points="305.88,365.54 329.38,353.78 352.88,365.54 329.38,377.3" fill="#ffffff" stroke="#222222" stroke-width="0.8" stroke-linejoin="round"/>
<polygon points="258.88,389.06 282.38,400.82 282.38,435.43 258.88,423.67" fill="#ffffff" stroke="#222222" stroke-width="0.8" stroke-linejoin="round"/>
<polygon points="282.38,400.82 329.38,377.3 329.38,411.91 282.38,435.43" fill="#ffffff" stroke="#222222" stroke-width="0.8" stroke-linejoin="round"/>
<polygon points="258.88,389.06 305.88,365.54 329.38,377.3 282.38,400.82" fill="#ffffff" stroke="#222222" stroke-width="0.8" stroke-linejoin="round"/>
<polygon points="235.38,400.82 258.88,412.58 258.88,447.19 235.38,435.43" fill="#ebebeb" stroke="#666" stroke-width="0.8" stroke-linejoin="round"/>
<polygon points="258.88,412.58 282.38,400.82 282.38,435.43 258.88,447.19" fill="url(#fg)" stroke="#666" stroke-width="0.8" stroke-linejoin="round"/>
<polygon points="235.38,400.82 258.88,389.06 282.38,400.82 258.88,412.58" fill="#f1f1f1" stroke="#666" stroke-width="0.8" stroke-linejoin="round"/>
<path d="M248.88,395.22 L248.88,400.82 A10,5 0 0 0 268.88,400.82 L268.88,395.22 A10,5 0 0 0 248.88,395.22 Z" fill="#0a0a0a"/>
<ellipse cx="258.88" cy="395.22" rx="9.7" ry="4.8" fill="url(#sg2)" stroke="#666" stroke-width="0.7"/>
<polygon points="260.38,439.69 268.38,434.69 268.38,439.69 260.38,443.69" fill="#c2c2c2" stroke="none" stroke-width="0" stroke-linejoin="round"/>
<polygon points="188.38,424.34 211.88,436.1 211.88,470.71 188.38,458.95" fill="#ffffff" stroke="#222222" stroke-width="0.8" stroke-linejoin="round"/>
<polygon points="211.88,436.1 258.88,412.58 258.88,447.19 211.88,470.71" fill="#ffffff" stroke="#222222" stroke-width="0.8" stroke-linejoin="round"/>
<polygon points="188.38,424.34 235.38,400.82 258.88,412.58 211.88,436.1" fill="#ffffff" stroke="#222222" stroke-width="0.8" stroke-linejoin="round"/>
<path d="M225.38,406.98 L225.38,412.58 A10,5 0 0 0 245.38,412.58 L245.38,406.98 A10,5 0 0 0 225.38,406.98 Z" fill="#000000"/>
<ellipse cx="235.38" cy="406.98" rx="9.7" ry="4.8" fill="#ffffff" stroke="#222222" stroke-width="0.7"/>
<path d="M201.88,418.74 L201.88,424.34 A10,5 0 0 0 221.88,424.34 L221.88,418.74 A10,5 0 0 0 201.88,418.74 Z" fill="#000000"/>
<ellipse cx="211.88" cy="418.74" rx="9.7" ry="4.8" fill="#ffffff" stroke="#222222" stroke-width="0.7"/>
<polygon points="235.38,295.65 258.88,283.89 282.38,295.65 540.88,166.29 587.88,189.81 587.88,224.42 352.88,342.02 352.88,365.54 282.38,400.82 258.88,389.06 258.88,354.45 271.3,348.23 235.38,330.26" fill="none" stroke="#e62ee2" stroke-width="6.8" stroke-linejoin="round"/>
<path d="M530.88,172.45 L530.88,178.05 A10,5 0 0 0 550.88,178.05 L550.88,172.45 A10,5 0 0 0 530.88,172.45 Z" fill="none" stroke="#e62ee2" stroke-width="6.8"/>
<path d="M507.38,184.21 L507.38,189.81 A10,5 0 0 0 527.38,189.81 L527.38,184.21 A10,5 0 0 0 507.38,184.21 Z" fill="none" stroke="#e62ee2" stroke-width="6.8"/>
<path d="M554.38,184.21 L554.38,189.81 A10,5 0 0 0 574.38,189.81 L574.38,184.21 A10,5 0 0 0 554.38,184.21 Z" fill="none" stroke="#e62ee2" stroke-width="6.8"/>
<path d="M248.88,290.05 L248.88,295.65 A10,5 0 0 0 268.88,295.65 L268.88,290.05 A10,5 0 0 0 248.88,290.05 Z" fill="none" stroke="#e62ee2" stroke-width="6.8"/>
<path d="M272.38,348.85 L272.38,354.45 A10,5 0 0 0 292.38,354.45 L292.38,348.85 A10,5 0 0 0 272.38,348.85 Z" fill="none" stroke="#e62ee2" stroke-width="6.8"/>
<polygon points="470.38,201.57 517.38,225.09 517.38,259.7 470.38,236.18" fill="#dd1100" stroke="#3a0000" stroke-width="0.8" stroke-linejoin="round"/>
<polygon points="517.38,225.09 587.88,189.81 587.88,224.42 517.38,259.7" fill="#dd1100" stroke="#3a0000" stroke-width="0.8" stroke-linejoin="round"/>
<polygon points="470.38,201.57 540.88,166.29 587.88,189.81 517.38,225.09" fill="#dd1100" stroke="#3a0000" stroke-width="0.8" stroke-linejoin="round"/>
<path d="M530.88,172.45 L530.88,178.05 A10,5 0 0 0 550.88,178.05 L550.88,172.45 A10,5 0 0 0 530.88,172.45 Z" fill="#000000"/>
<ellipse cx="540.88" cy="172.45" rx="9.7" ry="4.8" fill="#dd1100" stroke="#7a0800" stroke-width="0.7"/>
<path d="M554.38,184.21 L554.38,189.81 A10,5 0 0 0 574.38,189.81 L574.38,184.21 A10,5 0 0 0 554.38,184.21 Z" fill="#000000"/>
<ellipse cx="564.38" cy="184.21" rx="9.7" ry="4.8" fill="#dd1100" stroke="#7a0800" stroke-width="0.7"/>
<path d="M507.38,184.21 L507.38,189.81 A10,5 0 0 0 527.38,189.81 L527.38,184.21 A10,5 0 0 0 507.38,184.21 Z" fill="#000000"/>
<ellipse cx="517.38" cy="184.21" rx="9.7" ry="4.8" fill="#dd1100" stroke="#7a0800" stroke-width="0.7"/>
<path d="M530.88,195.97 L530.88,201.57 A10,5 0 0 0 550.88,201.57 L550.88,195.97 A10,5 0 0 0 530.88,195.97 Z" fill="#000000"/>
<ellipse cx="540.88" cy="195.97" rx="9.7" ry="4.8" fill="#dd1100" stroke="#7a0800" stroke-width="0.7"/>
<path d="M483.88,195.97 L483.88,201.57 A10,5 0 0 0 503.88,201.57 L503.88,195.97 A10,5 0 0 0 483.88,195.97 Z" fill="#000000"/>
<ellipse cx="493.88" cy="195.97" rx="9.7" ry="4.8" fill="#dd1100" stroke="#7a0800" stroke-width="0.7"/>
<path d="M507.38,207.73 L507.38,213.33 A10,5 0 0 0 527.38,213.33 L527.38,207.73 A10,5 0 0 0 507.38,207.73 Z" fill="#000000"/>
<ellipse cx="517.38" cy="207.73" rx="9.7" ry="4.8" fill="#dd1100" stroke="#7a0800" stroke-width="0.7"/>
<polygon points="376.38,248.61 423.38,272.13 423.38,306.74 376.38,283.22" fill="#dd1100" stroke="#3a0000" stroke-width="0.8" stroke-linejoin="round"/>
<polygon points="423.38,272.13 517.38,225.09 517.38,259.7 423.38,306.74" fill="#dd1100" stroke="#3a0000" stroke-width="0.8" stroke-linejoin="round"/>
<polygon points="376.38,248.61 470.38,201.57 517.38,225.09 423.38,272.13" fill="#dd1100" stroke="#3a0000" stroke-width="0.8" stroke-linejoin="round"/>
<path d="M460.38,207.73 L460.38,213.33 A10,5 0 0 0 480.38,213.33 L480.38,207.73 A10,5 0 0 0 460.38,207.73 Z" fill="#000000"/>
<ellipse cx="470.38" cy="207.73" rx="9.7" ry="4.8" fill="#dd1100" stroke="#7a0800" stroke-width="0.7"/>
<path d="M483.88,219.49 L483.88,225.09 A10,5 0 0 0 503.88,225.09 L503.88,219.49 A10,5 0 0 0 483.88,219.49 Z" fill="#000000"/>
<ellipse cx="493.88" cy="219.49" rx="9.7" ry="4.8" fill="#dd1100" stroke="#7a0800" stroke-width="0.7"/>
<path d="M436.88,219.49 L436.88,225.09 A10,5 0 0 0 456.88,225.09 L456.88,219.49 A10,5 0 0 0 436.88,219.49 Z" fill="#000000"/>
<ellipse cx="446.88" cy="219.49" rx="9.7" ry="4.8" fill="#dd1100" stroke="#7a0800" stroke-width="0.7"/>
<path d="M460.38,231.25 L460.38,236.85 A10,5 0 0 0 480.38,236.85 L480.38,231.25 A10,5 0 0 0 460.38,231.25 Z" fill="#000000"/>
<ellipse cx="470.38" cy="231.25" rx="9.7" ry="4.8" fill="#dd1100" stroke="#7a0800" stroke-width="0.7"/>
<path d="M413.38,231.25 L413.38,236.85 A10,5 0 0 0 433.38,236.85 L433.38,231.25 A10,5 0 0 0 413.38,231.25 Z" fill="#000000"/>
<ellipse cx="423.38" cy="231.25" rx="9.7" ry="4.8" fill="#dd1100" stroke="#7a0800" stroke-width="0.7"/>
<path d="M436.88,243.01 L436.88,248.61 A10,5 0 0 0 456.88,248.61 L456.88,243.01 A10,5 0 0 0 436.88,243.01 Z" fill="#000000"/>
<ellipse cx="446.88" cy="243.01" rx="9.7" ry="4.8" fill="#dd1100" stroke="#7a0800" stroke-width="0.7"/>
<path d="M389.88,243.01 L389.88,248.61 A10,5 0 0 0 409.88,248.61 L409.88,243.01 A10,5 0 0 0 389.88,243.01 Z" fill="#000000"/>
<ellipse cx="399.88" cy="243.01" rx="9.7" ry="4.8" fill="#dd1100" stroke="#7a0800" stroke-width="0.7"/>
<path d="M413.38,254.77 L413.38,260.37 A10,5 0 0 0 433.38,260.37 L433.38,254.77 A10,5 0 0 0 413.38,254.77 Z" fill="#000000"/>
<ellipse cx="423.38" cy="254.77" rx="9.7" ry="4.8" fill="#dd1100" stroke="#7a0800" stroke-width="0.7"/>
<polygon points="282.38,295.65 329.38,319.17 329.38,353.78 282.38,330.26" fill="#dd1100" stroke="#3a0000" stroke-width="0.8" stroke-linejoin="round"/>
<polygon points="329.38,319.17 423.38,272.13 423.38,306.74 329.38,353.78" fill="#dd1100" stroke="#3a0000" stroke-width="0.8" stroke-linejoin="round"/>
<polygon points="282.38,295.65 376.38,248.61 423.38,272.13 329.38,319.17" fill="#dd1100" stroke="#3a0000" stroke-width="0.8" stroke-linejoin="round"/>
<path d="M366.38,254.77 L366.38,260.37 A10,5 0 0 0 386.38,260.37 L386.38,254.77 A10,5 0 0 0 366.38,254.77 Z" fill="#000000"/>
<ellipse cx="376.38" cy="254.77" rx="9.7" ry="4.8" fill="#dd1100" stroke="#7a0800" stroke-width="0.7"/>
<path d="M389.88,266.53 L389.88,272.13 A10,5 0 0 0 409.88,272.13 L409.88,266.53 A10,5 0 0 0 389.88,266.53 Z" fill="#000000"/>
<ellipse cx="399.88" cy="266.53" rx="9.7" ry="4.8" fill="#dd1100" stroke="#7a0800" stroke-width="0.7"/>
<path d="M342.88,266.53 L342.88,272.13 A10,5 0 0 0 362.88,272.13 L362.88,266.53 A10,5 0 0 0 342.88,266.53 Z" fill="#000000"/>
<ellipse cx="352.88" cy="266.53" rx="9.7" ry="4.8" fill="#dd1100" stroke="#7a0800" stroke-width="0.7"/>
<path d="M366.38,278.29 L366.38,283.89 A10,5 0 0 0 386.38,283.89 L386.38,278.29 A10,5 0 0 0 366.38,278.29 Z" fill="#000000"/>
<ellipse cx="376.38" cy="278.29" rx="9.7" ry="4.8" fill="#dd1100" stroke="#7a0800" stroke-width="0.7"/>
<path d="M319.38,278.29 L319.38,283.89 A10,5 0 0 0 339.38,283.89 L339.38,278.29 A10,5 0 0 0 319.38,278.29 Z" fill="#000000"/>
<ellipse cx="329.38" cy="278.29" rx="9.7" ry="4.8" fill="#dd1100" stroke="#7a0800" stroke-width="0.7"/>
<path d="M342.88,290.05 L342.88,295.65 A10,5 0 0 0 362.88,295.65 L362.88,290.05 A10,5 0 0 0 342.88,290.05 Z" fill="#000000"/>
<ellipse cx="352.88" cy="290.05" rx="9.7" ry="4.8" fill="#dd1100" stroke="#7a0800" stroke-width="0.7"/>
<path d="M295.88,290.05 L295.88,295.65 A10,5 0 0 0 315.88,295.65 L315.88,290.05 A10,5 0 0 0 295.88,290.05 Z" fill="#000000"/>
<ellipse cx="305.88" cy="290.05" rx="9.7" ry="4.8" fill="#dd1100" stroke="#7a0800" stroke-width="0.7"/>
<path d="M319.38,301.81 L319.38,307.41 A10,5 0 0 0 339.38,307.41 L339.38,301.81 A10,5 0 0 0 319.38,301.81 Z" fill="#000000"/>
<ellipse cx="329.38" cy="301.81" rx="9.7" ry="4.8" fill="#dd1100" stroke="#7a0800" stroke-width="0.7"/>
<polygon points="235.38,295.65 329.38,342.69 329.38,377.3 235.38,330.26" fill="#ffffff" stroke="#222222" stroke-width="0.8" stroke-linejoin="round"/>
<polygon points="329.38,342.69 352.88,330.93 352.88,365.54 329.38,377.3" fill="#ffffff" stroke="#222222" stroke-width="0.8" stroke-linejoin="round"/>
<polygon points="235.38,295.65 258.88,283.89 352.88,330.93 329.38,342.69" fill="#ffffff" stroke="#222222" stroke-width="0.8" stroke-linejoin="round"/>
<path d="M248.88,290.05 L248.88,295.65 A10,5 0 0 0 268.88,295.65 L268.88,290.05 A10,5 0 0 0 248.88,290.05 Z" fill="#000000"/>
<ellipse cx="258.88" cy="290.05" rx="9.7" ry="4.8" fill="#ffffff" stroke="#222222" stroke-width="0.7"/>
<path d="M272.38,301.81 L272.38,307.41 A10,5 0 0 0 292.38,307.41 L292.38,301.81 A10,5 0 0 0 272.38,301.81 Z" fill="#000000"/>
<ellipse cx="282.38" cy="301.81" rx="9.7" ry="4.8" fill="#ffffff" stroke="#222222" stroke-width="0.7"/>
<path d="M295.88,313.57 L295.88,319.17 A10,5 0 0 0 315.88,319.17 L315.88,313.57 A10,5 0 0 0 295.88,313.57 Z" fill="#000000"/>
<ellipse cx="305.88" cy="313.57" rx="9.7" ry="4.8" fill="#ffffff" stroke="#222222" stroke-width="0.7"/>
<path d="M319.38,325.33 L319.38,330.93 A10,5 0 0 0 339.38,330.93 L339.38,325.33 A10,5 0 0 0 319.38,325.33 Z" fill="#000000"/>
<ellipse cx="329.38" cy="325.33" rx="9.7" ry="4.8" fill="#ffffff" stroke="#222222" stroke-width="0.7"/>
<polygon points="258.88,354.45 282.38,366.21 282.38,400.82 258.88,389.06" fill="#ffffff" stroke="#222222" stroke-width="0.8" stroke-linejoin="round"/>
<polygon points="282.38,366.21 329.38,342.69 329.38,377.3 282.38,400.82" fill="#ffffff" stroke="#222222" stroke-width="0.8" stroke-linejoin="round"/>
<polygon points="258.88,354.45 305.88,330.93 329.38,342.69 282.38,366.21" fill="#ffffff" stroke="#222222" stroke-width="0.8" stroke-linejoin="round"/>
<path d="M295.88,337.09 L295.88,342.69 A10,5 0 0 0 315.88,342.69 L315.88,337.09 A10,5 0 0 0 295.88,337.09 Z" fill="#000000"/>
<ellipse cx="305.88" cy="337.09" rx="9.7" ry="4.8" fill="#ffffff" stroke="#222222" stroke-width="0.7"/>
<path d="M272.38,348.85 L272.38,354.45 A10,5 0 0 0 292.38,354.45 L292.38,348.85 A10,5 0 0 0 272.38,348.85 Z" fill="#000000"/>
<ellipse cx="282.38" cy="348.85" rx="9.7" ry="4.8" fill="#ffffff" stroke="#222222" stroke-width="0.7"/>
<polygon points="259.28,345.92 259.28,350.62 263.48,348.22" fill="#ffffff" stroke="none" stroke-width="0" stroke-linejoin="round"/>
<line x1="258.88" y1="343.52" x2="258.88" y2="353.02" stroke="#222222" stroke-width="0.8" stroke-linecap="round"/>
<clipPath id="cv"><polygon points="235.38,295.65 258.88,283.89 282.38,295.65 540.88,166.29 587.88,189.81 587.88,224.42 352.88,342.02 352.88,365.54 282.38,400.82 258.88,389.06 258.88,354.45 271.3,348.23 235.38,330.26"/></clipPath>
<g clip-path="url(#cv)"><path d="M248.88,395.22 L248.88,400.82 A10,5 0 0 0 268.88,400.82 L268.88,395.22 A10,5 0 0 0 248.88,395.22 Z" fill="none" stroke="#e62ee2" stroke-width="6.8"/></g>
<path d="M248.88,395.22 L248.88,400.82 A10,5 0 0 0 268.88,400.82 L268.88,395.22 A10,5 0 0 0 248.88,395.22 Z" fill="#0a0a0a"/>
<ellipse cx="258.88" cy="395.22" rx="9.7" ry="4.8" fill="url(#sg2)" stroke="#666" stroke-width="0.7"/>
</g>
</svg>
</body></html>
